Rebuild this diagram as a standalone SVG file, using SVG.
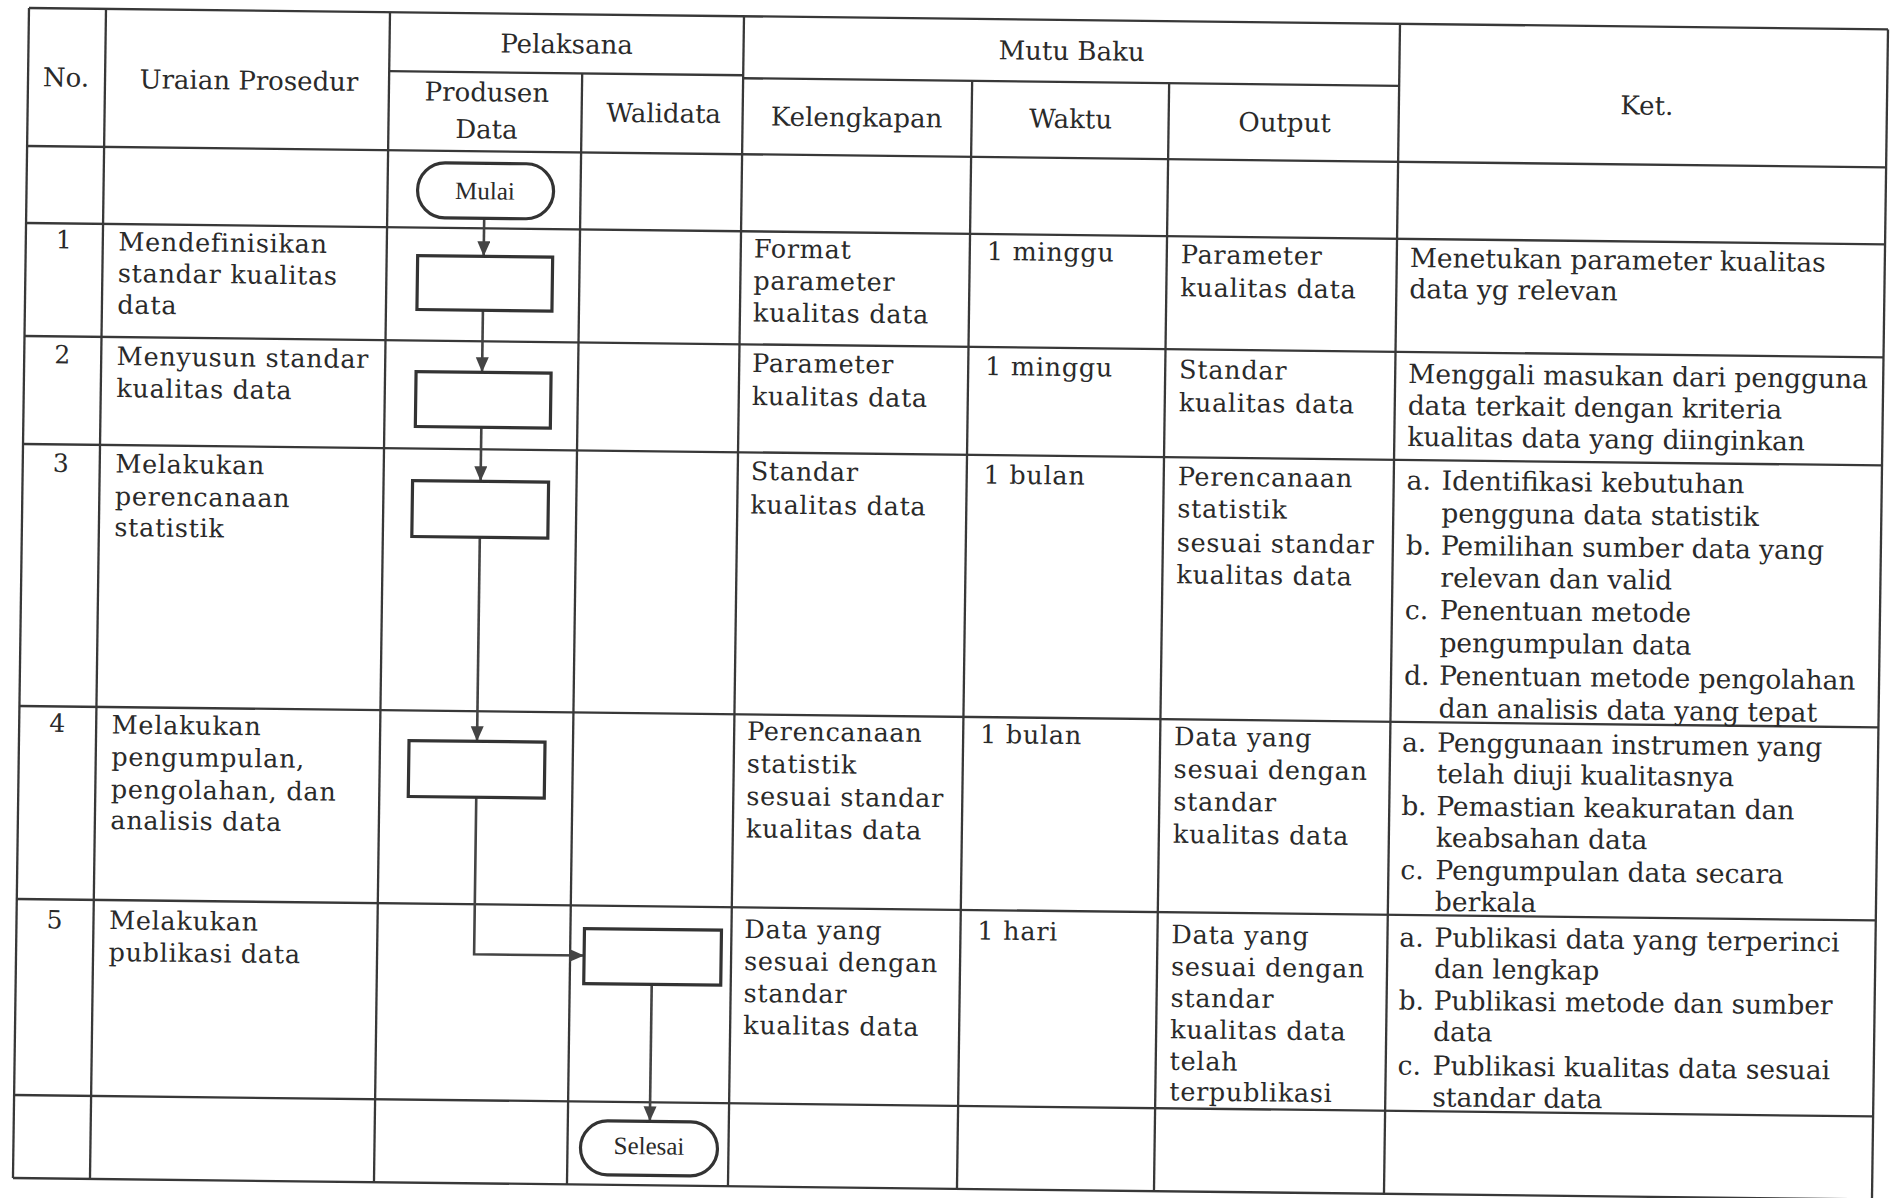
<svg xmlns="http://www.w3.org/2000/svg" width="1896" height="1198" viewBox="0 0 1896 1198">
<style>
.g line{stroke:#383838;stroke-width:2.3}
text{font-family:"DejaVu Serif","Liberation Serif",serif;fill:#2a2a2a}
.t{font-size:25.5px;letter-spacing:0.7px}
.h{font-size:26px;text-anchor:middle}
.n{font-size:25px;text-anchor:middle}
.k{font-size:26.5px}
.box{fill:#fff;stroke:#333;stroke-width:3.2}
.term{font-family:"Liberation Serif",serif;font-size:25px;text-anchor:middle}
.c{fill:none;stroke:#444;stroke-width:2.6}
</style>
<defs>
<marker id="ah" markerUnits="userSpaceOnUse" markerWidth="16" markerHeight="14" refX="15" refY="6.5" orient="auto">
<path d="M0,0 L15,6.5 L0,13 z" fill="#444"/>
</marker>
</defs>
<rect width="1896" height="1198" fill="#fff"/>
<g transform="matrix(1,0.0115,-0.0137,1,27,8)">
<g id="table" class="g">
<line x1="2" y1="0" x2="1861" y2="0"/>
<line x1="2" y1="1170" x2="1861" y2="1170"/>
<line x1="2" y1="0" x2="2" y2="1170"/>
<line x1="1861" y1="0" x2="1861" y2="1170"/>
<line x1="79" y1="0" x2="79" y2="1170"/>
<line x1="363" y1="0" x2="363" y2="1170"/>
<line x1="556" y1="59" x2="556" y2="1170"/>
<line x1="717" y1="0" x2="717" y2="1170"/>
<line x1="946" y1="62" x2="946" y2="1170"/>
<line x1="1143" y1="62" x2="1143" y2="1170"/>
<line x1="1373" y1="0" x2="1373" y2="1170"/>
<line x1="363" y1="59" x2="717" y2="59"/>
<line x1="717" y1="62" x2="1373" y2="62"/>
<line x1="2" y1="138" x2="1861" y2="138"/>
<line x1="2" y1="215" x2="1861" y2="215"/>
<line x1="2" y1="328" x2="1861" y2="328"/>
<line x1="2" y1="436" x2="1861" y2="436"/>
<line x1="2" y1="698" x2="1861" y2="698"/>
<line x1="2" y1="891" x2="1861" y2="891"/>
<line x1="2" y1="1087" x2="1861" y2="1087"/>
</g>
<g id="header">
<text class="h" x="40" y="78">No.</text>
<text class="h" x="223" y="79">Uraian Prosedur</text>
<text class="h" x="540" y="39">Pelaksana</text>
<text class="h" x="461" y="88">Produsen</text>
<text class="h" x="461" y="125">Data</text>
<text class="h" x="638" y="107">Walidata</text>
<text class="h" x="1045" y="40">Mutu Baku</text>
<text class="h" x="831" y="109">Kelengkapan</text>
<text class="h" x="1045" y="108">Waktu</text>
<text class="h" x="1259" y="109">Output</text>
<text class="h" x="1621" y="88">Ket.</text>
</g>
<g id="row1">
<text class="n" x="40" y="240">1</text>
<text class="t"><tspan x="94.5" y="241.5">Mendefinisikan</tspan><tspan x="94.5" y="273">standar kualitas</tspan><tspan x="94.5" y="304.5">data</tspan></text>
<text class="t"><tspan x="730" y="241">Format</tspan><tspan x="730" y="273">parameter</tspan><tspan x="730" y="305">kualitas data</tspan></text>
<text class="t" x="963" y="241">1 minggu</text>
<text class="t"><tspan x="1157" y="242">Parameter</tspan><tspan x="1157" y="275">kualitas data</tspan></text>
<text class="k"><tspan x="1386" y="243">Menetukan parameter kualitas</tspan><tspan x="1386" y="274">data yg relevan</tspan></text>
</g>
<g id="row2">
<text class="n" x="40" y="355">2</text>
<text class="t"><tspan x="94.5" y="356">Menyusun standar</tspan><tspan x="94.5" y="388">kualitas data</tspan></text>
<text class="t"><tspan x="730" y="355.5">Parameter</tspan><tspan x="730" y="388.5">kualitas data</tspan></text>
<text class="t" x="963" y="356">1 minggu</text>
<text class="t"><tspan x="1157" y="357">Standar</tspan><tspan x="1157" y="390">kualitas data</tspan></text>
<text class="k"><tspan x="1386" y="359">Menggali masukan dari pengguna</tspan><tspan x="1386" y="390.5">data terkait dengan kriteria</tspan><tspan x="1386" y="422">kualitas data yang diinginkan</tspan></text>
</g>
<g id="row3">
<text class="n" x="40" y="463.5">3</text>
<text class="t"><tspan x="94.5" y="463.5">Melakukan</tspan><tspan x="94.5" y="496">perencanaan</tspan><tspan x="94.5" y="527">statistik</tspan></text>
<text class="t"><tspan x="730" y="463.5">Standar</tspan><tspan x="730" y="497">kualitas data</tspan></text>
<text class="t" x="963" y="464.5">1 bulan</text>
<text class="t"><tspan x="1157" y="464">Perencanaan</tspan><tspan x="1157" y="496">statistik</tspan><tspan x="1157" y="530">sesuai standar</tspan><tspan x="1157" y="562">kualitas data</tspan></text>
<text class="k"><tspan x="1386" y="465.5">a.</tspan><tspan x="1421" y="465.5">Identifikasi kebutuhan</tspan><tspan x="1421" y="498">pengguna data statistik</tspan><tspan x="1386" y="530.5">b.</tspan><tspan x="1421" y="530.5">Pemilihan sumber data yang</tspan><tspan x="1421" y="562.5">relevan dan valid</tspan><tspan x="1386" y="595">c.</tspan><tspan x="1421" y="595">Penentuan metode</tspan><tspan x="1421" y="627.5">pengumpulan data</tspan><tspan x="1386" y="660.5">d.</tspan><tspan x="1421" y="660.5">Penentuan metode pengolahan</tspan><tspan x="1421" y="693">dan analisis data yang tepat</tspan></text>
</g>
<g id="row4">
<text class="n" x="40" y="723.5">4</text>
<text class="t"><tspan x="94.5" y="724.5">Melakukan</tspan><tspan x="94.5" y="756.5">pengumpulan,</tspan><tspan x="94.5" y="789">pengolahan, dan</tspan><tspan x="94.5" y="820">analisis data</tspan></text>
<text class="t"><tspan x="730" y="723.5">Perencanaan</tspan><tspan x="730" y="756">statistik</tspan><tspan x="730" y="788.5">sesuai standar</tspan><tspan x="730" y="821">kualitas data</tspan></text>
<text class="t" x="963" y="724">1 bulan</text>
<text class="t"><tspan x="1157" y="724">Data yang</tspan><tspan x="1157" y="756.5">sesuai dengan</tspan><tspan x="1157" y="789">standar</tspan><tspan x="1157" y="821.5">kualitas data</tspan></text>
<text class="k"><tspan x="1385" y="727.5">a.</tspan><tspan x="1420" y="727.5">Penggunaan instrumen yang</tspan><tspan x="1420" y="758.5">telah diuji kualitasnya</tspan><tspan x="1385" y="791">b.</tspan><tspan x="1420" y="791">Pemastian keakuratan dan</tspan><tspan x="1420" y="822.5">keabsahan data</tspan><tspan x="1385" y="855">c.</tspan><tspan x="1420" y="855">Pengumpulan data secara</tspan><tspan x="1420" y="886.5">berkala</tspan></text>
</g>
<g id="row5">
<text class="n" x="40" y="920">5</text>
<text class="t"><tspan x="94.5" y="920">Melakukan</tspan><tspan x="94.5" y="952">publikasi data</tspan></text>
<text class="t"><tspan x="730" y="921.5">Data yang</tspan><tspan x="730" y="953.5">sesuai dengan</tspan><tspan x="730" y="985.5">standar</tspan><tspan x="730" y="1017.5">kualitas data</tspan></text>
<text class="t" x="963" y="920.5">1 hari</text>
<text class="t"><tspan x="1157" y="922">Data yang</tspan><tspan x="1157" y="954">sesuai dengan</tspan><tspan x="1157" y="985.5">standar</tspan><tspan x="1157" y="1017">kualitas data</tspan><tspan x="1157" y="1048.5">telah</tspan><tspan x="1157" y="1079">terpublikasi</tspan></text>
<text class="k"><tspan x="1385" y="922.5">a.</tspan><tspan x="1420" y="922.5">Publikasi data yang terperinci</tspan><tspan x="1420" y="953.5">dan lengkap</tspan><tspan x="1385" y="985.5">b.</tspan><tspan x="1420" y="985.5">Publikasi metode dan sumber</tspan><tspan x="1420" y="1016.5">data</tspan><tspan x="1385" y="1050.5">c.</tspan><tspan x="1420" y="1050.5">Publikasi kualitas data sesuai</tspan><tspan x="1420" y="1082">standar data</tspan></text>
</g>
<g id="connectors">
<path class="c" d="M460,205 L460,243" marker-end="url(#ah)"/>
<path class="c" d="M460,297 L460,359" marker-end="url(#ah)"/>
<path class="c" d="M460,414 L460,468" marker-end="url(#ah)"/>
<path class="c" d="M460,524 L460,728" marker-end="url(#ah)"/>
<path class="c" d="M460,784 L460,941 L570,941" marker-end="url(#ah)"/>
<path class="c" d="M638,969 L638,1106" marker-end="url(#ah)"/>
</g>
<g id="mulai"><rect class="box" x="393" y="150" width="136" height="55" rx="27.5"/><text class="term" x="460.5" y="186">Mulai</text></g>
<g id="step1"><rect class="box" x="394" y="243" width="135" height="54"/></g>
<g id="step2"><rect class="box" x="394" y="359" width="135" height="55"/></g>
<g id="step3"><rect class="box" x="392" y="468" width="136" height="56"/></g>
<g id="step4"><rect class="box" x="392" y="728" width="136" height="56"/></g>
<g id="step5"><rect class="box" x="570" y="914" width="137" height="55"/></g>
<g id="selesai"><rect class="box" x="569" y="1106" width="137" height="54" rx="27"/><text class="term" x="637.5" y="1139">Selesai</text></g>
</g>
</svg>
